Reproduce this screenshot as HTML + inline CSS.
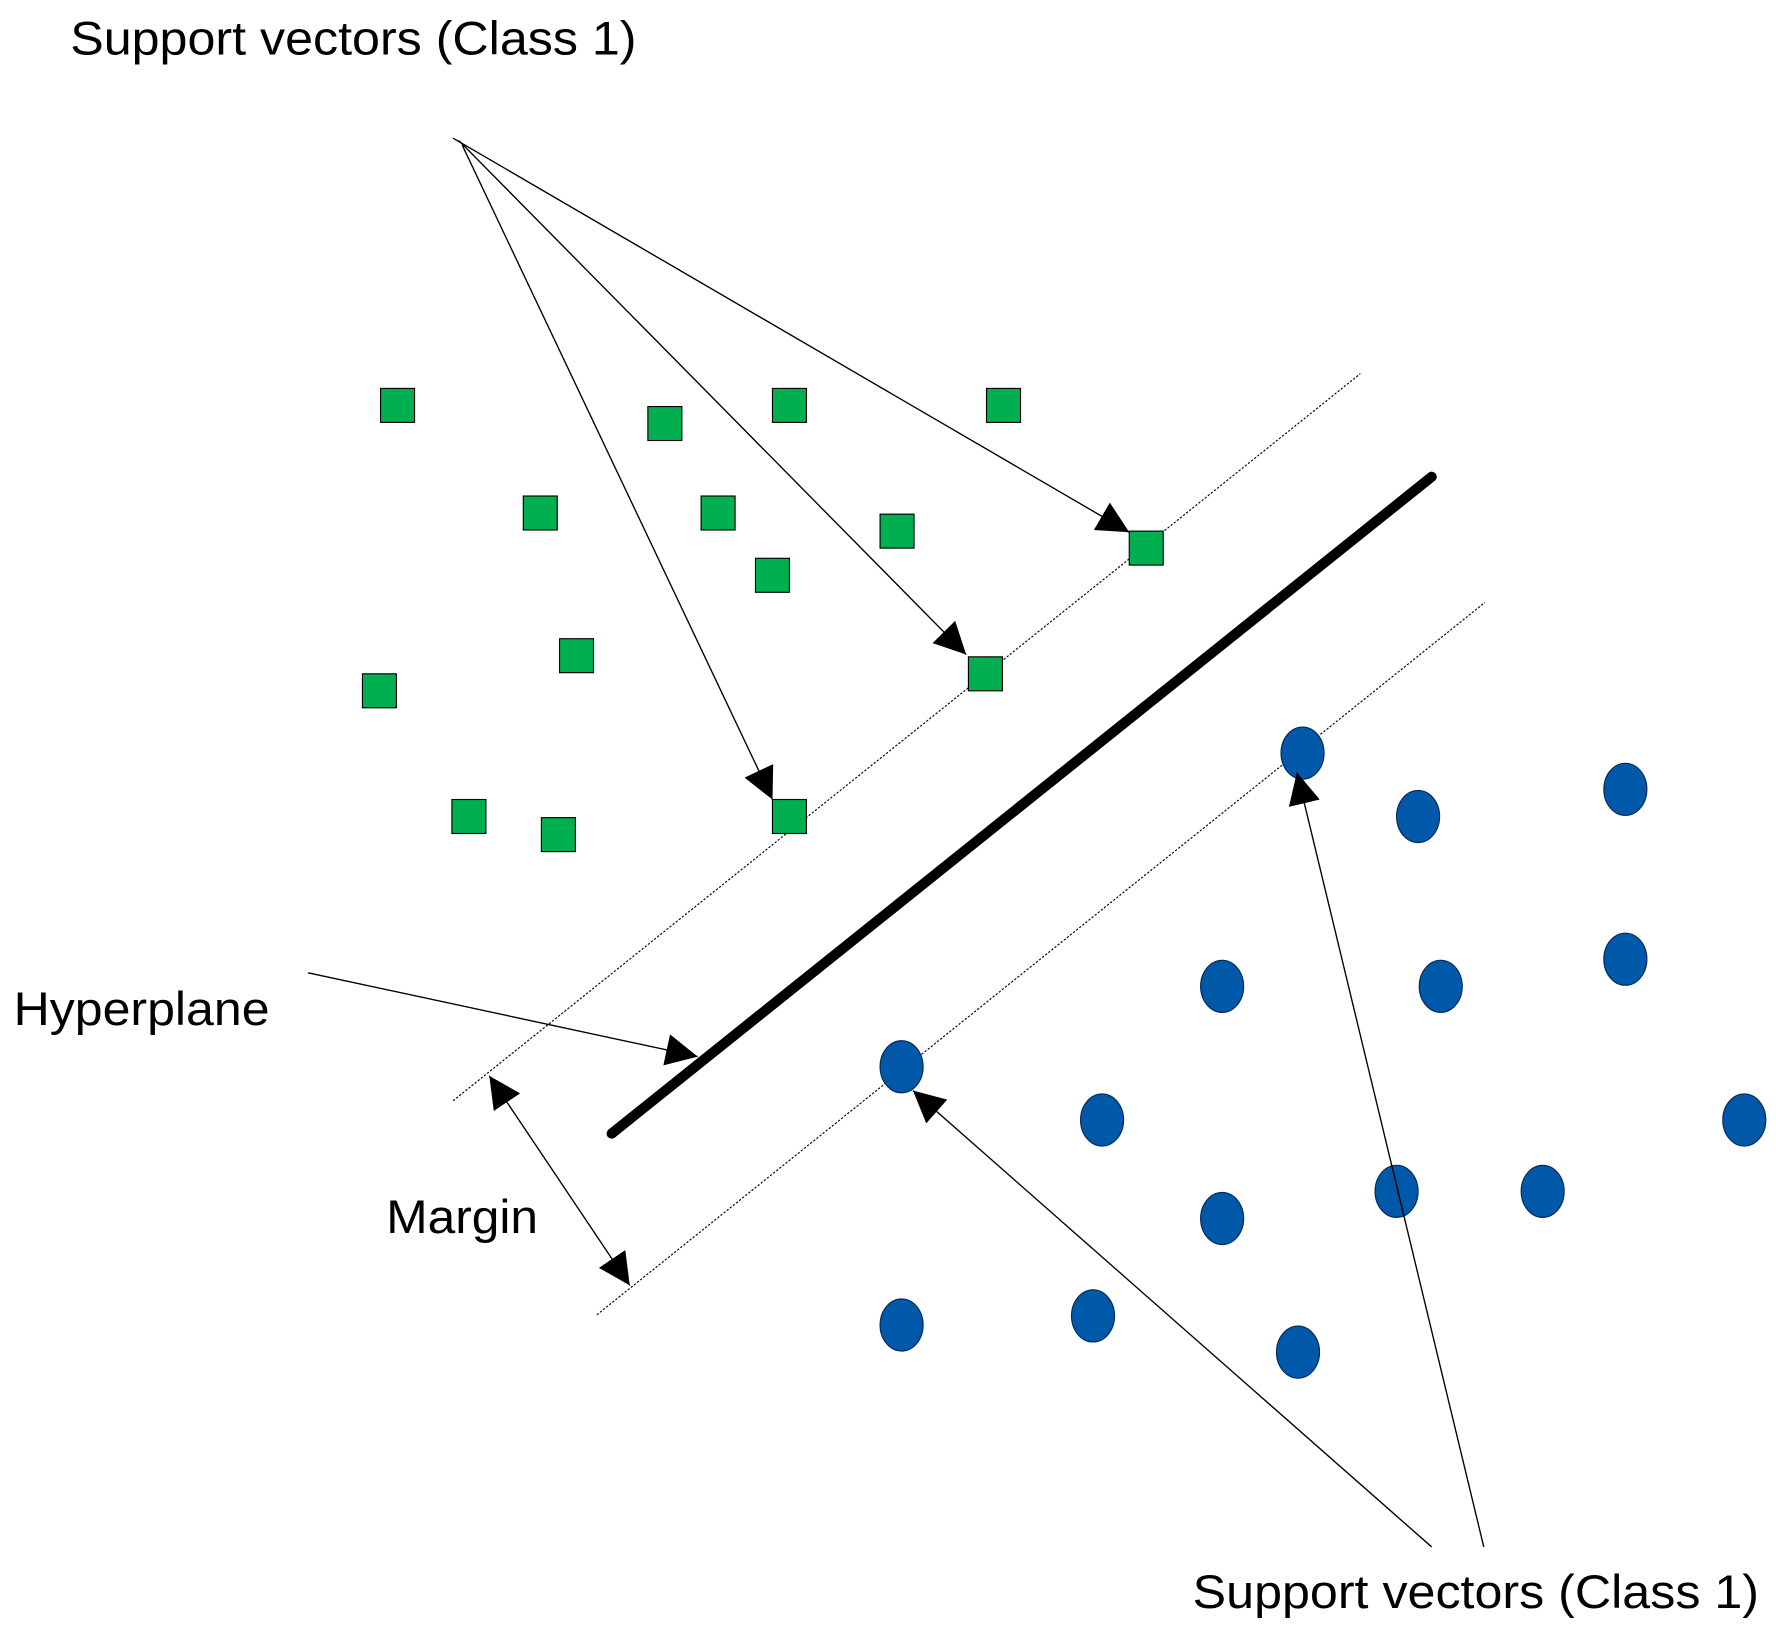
<!DOCTYPE html>
<html><head><meta charset="utf-8"><style>html,body{margin:0;padding:0;background:#fff}svg{display:block}</style></head>
<body>
<svg width="1776" height="1633" viewBox="0 0 1568 1442" preserveAspectRatio="none" xmlns="http://www.w3.org/2000/svg" font-family="Liberation Sans, Arial, sans-serif">
<defs>
<marker id="a" viewBox="0 0 10 10" refX="10" refY="5" markerWidth="42" markerHeight="28" markerUnits="userSpaceOnUse" orient="auto-start-reverse">
<path d="M0,0 L10,5 L0,10 z" fill="#000"/></marker>
</defs>
<rect width="1568" height="1442" fill="#fff"/>
<line x1="400" y1="972" x2="1201" y2="330" stroke="#000" stroke-width="1" stroke-dasharray="2,1.5"/>
<line x1="527" y1="1161" x2="1311" y2="532" stroke="#000" stroke-width="1" stroke-dasharray="2,1.5"/>
<line x1="540" y1="1001" x2="1264" y2="421" stroke="#000" stroke-width="9" stroke-linecap="round"/>
<g fill="#00b050" stroke="#000" stroke-width="1">
<rect x="336" y="343" width="30" height="30"/>
<rect x="572" y="359" width="30" height="30"/>
<rect x="682" y="343" width="30" height="30"/>
<rect x="871" y="343" width="30" height="30"/>
<rect x="462" y="438" width="30" height="30"/>
<rect x="619" y="438" width="30" height="30"/>
<rect x="777" y="454" width="30" height="30"/>
<rect x="667" y="493" width="30" height="30"/>
<rect x="997" y="469" width="30" height="30"/>
<rect x="494" y="564" width="30" height="30"/>
<rect x="320" y="595" width="30" height="30"/>
<rect x="855" y="580" width="30" height="30"/>
<rect x="399" y="706" width="30" height="30"/>
<rect x="478" y="722" width="30" height="30"/>
<rect x="682" y="706" width="30" height="30"/>
</g>
<g fill="#0058a8" stroke="#002a5a" stroke-width="1">
<ellipse cx="1150" cy="665" rx="19" ry="23"/>
<ellipse cx="1252" cy="721" rx="19" ry="23"/>
<ellipse cx="1435" cy="697" rx="19" ry="23"/>
<ellipse cx="1079" cy="871" rx="19" ry="23"/>
<ellipse cx="1272" cy="871" rx="19" ry="23"/>
<ellipse cx="1435" cy="847" rx="19" ry="23"/>
<ellipse cx="796" cy="942" rx="19" ry="23"/>
<ellipse cx="973" cy="989" rx="19" ry="23"/>
<ellipse cx="1540" cy="989" rx="19" ry="23"/>
<ellipse cx="1233" cy="1052" rx="19" ry="23"/>
<ellipse cx="1362" cy="1052" rx="19" ry="23"/>
<ellipse cx="1079" cy="1076" rx="19" ry="23"/>
<ellipse cx="796" cy="1170" rx="19" ry="23"/>
<ellipse cx="965" cy="1162" rx="19" ry="23"/>
<ellipse cx="1146" cy="1194" rx="19" ry="23"/>
</g>
<g stroke="#000" stroke-width="1.2" fill="none">
<line x1="400" y1="122" x2="997" y2="470" marker-end="url(#a)"/>
<line x1="405" y1="124" x2="853" y2="578" marker-end="url(#a)"/>
<line x1="408" y1="128" x2="682" y2="706" marker-end="url(#a)"/>
<line x1="272" y1="859" x2="616" y2="933" marker-end="url(#a)"/>
<line x1="432" y1="950" x2="556" y2="1135" marker-start="url(#a)" marker-end="url(#a)"/>
<line x1="1264" y1="1366" x2="806" y2="963" marker-end="url(#a)"/>
<line x1="1310" y1="1366" x2="1145" y2="682" marker-end="url(#a)"/>
</g>
<g font-size="42" fill="#000">
<text x="62" y="48" textLength="500" lengthAdjust="spacingAndGlyphs">Support vectors (Class 1)</text>
<text x="12" y="905" textLength="226" lengthAdjust="spacingAndGlyphs">Hyperplane</text>
<text x="341" y="1089" textLength="134" lengthAdjust="spacingAndGlyphs">Margin</text>
<text x="1053" y="1420" textLength="500" lengthAdjust="spacingAndGlyphs">Support vectors (Class 1)</text>
</g>
</svg>
</body></html>
